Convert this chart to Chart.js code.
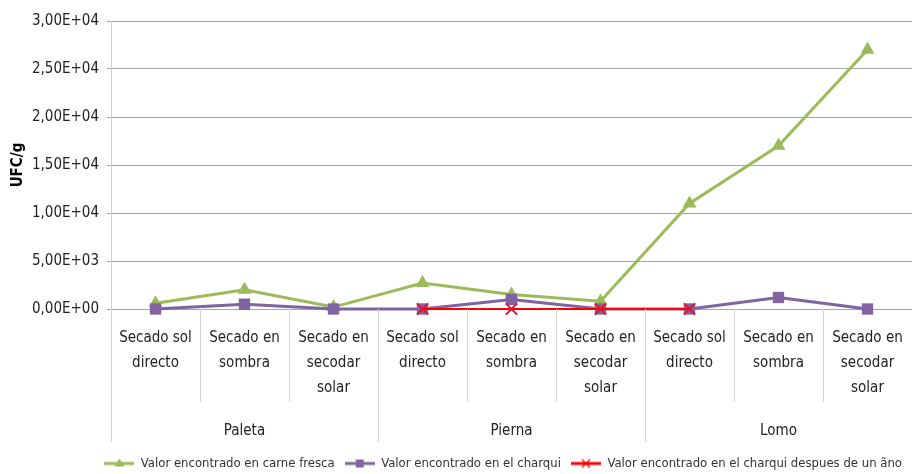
<!DOCTYPE html>
<html>
<head>
<meta charset="utf-8">
<script src="https://cdn.jsdelivr.net/npm/chart.js@4/dist/chart.umd.min.js"></script>
<style>
html,body{margin:0;padding:0;background:#fff;}
#wrap{width:912px;height:474px;position:relative;}
</style>
</head>
<body>
<div id="wrap"><canvas id="c" width="912" height="474"></canvas></div>
<script>
const categories = [
  ['Secado sol','directo'], ['Secado en','sombra'], ['Secado en','secodar','solar'],
  ['Secado sol','directo'], ['Secado en','sombra'], ['Secado en','secodar','solar'],
  ['Secado sol','directo'], ['Secado en','sombra'], ['Secado en','secodar','solar']
];
const groups = ['Paleta', 'Pierna', 'Lomo'];
const seriesNames = [
  'Valor encontrado en carne fresca',
  'Valor encontrado en el charqui',
  'Valor encontrado en el charqui despues de un ãno'
];
const carneFresca = [600, 2000, 200, 2700, 1500, 800, 11000, 17000, 27000];
const charqui = [0, 500, 0, 0, 1000, 0, 0, 1200, 0];
const charquiAno = [null, null, null, 0, 0, 0, 0, null, null];
const yMin = 0, yMax = 30000, yStep = 5000;

const FONT = "'Liberation Sans Narrow', 'DejaVu Sans Condensed', 'Liberation Sans', sans-serif";
const colors = ['#9BBB59', '#8064A2', '#FF0000'];
const styles = ['triangle', 'rect', 'crossRot'];

function fmtExp(v) {
  if (v === 0) return '0,00E+00';
  const e = Math.floor(Math.log10(Math.abs(v)));
  const m = v / Math.pow(10, e);
  const es = (e < 0 ? '-' : '+') + String(Math.abs(e)).padStart(2, '0');
  return m.toFixed(2).replace('.', ',') + 'E' + es;
}

function legendIcon(color, style) {
  const c = document.createElement('canvas');
  c.width = 30; c.height = 12;
  const g = c.getContext('2d');
  g.strokeStyle = color; g.fillStyle = color;
  g.lineWidth = 3;
  g.beginPath(); g.moveTo(0, 6); g.lineTo(30, 6); g.stroke();
  if (style === 'triangle') {
    g.beginPath(); g.moveTo(15, 1); g.lineTo(20, 9); g.lineTo(10, 9); g.closePath(); g.fill();
  } else if (style === 'rect') {
    g.fillRect(11, 2, 8, 8);
  } else {
    g.lineWidth = 1.2;
    g.beginPath(); g.moveTo(11, 2); g.lineTo(19, 10); g.moveTo(19, 2); g.lineTo(11, 10); g.stroke();
  }
  return c;
}
const icons = colors.map((c, i) => legendIcon(c, styles[i]));

const separators = {
  id: 'separators',
  afterDraw(chart) {
    const xs = chart.scales.x, x2 = chart.scales.x2;
    const ctx = chart.ctx;
    const top = chart.chartArea.bottom;
    ctx.save();
    ctx.strokeStyle = '#d4d4d4';
    ctx.lineWidth = 1;
    for (let i = 0; i <= categories.length; i++) {
      const px = Math.round(xs.getPixelForValue(i - 0.5)) + 0.5;
      const isGroup = i % 3 === 0;
      const bottom = isGroup ? x2.top + 40 : xs.bottom;
      ctx.beginPath(); ctx.moveTo(px, top); ctx.lineTo(px, bottom); ctx.stroke();
    }
    ctx.restore();
  }
};

const mk = (label, data, i, extra) => Object.assign({
  label, data,
  borderColor: colors[i], backgroundColor: colors[i],
  pointBackgroundColor: colors[i], pointBorderColor: colors[i],
  pointStyle: styles[i], tension: 0, spanGaps: false, clip: 10
}, extra);

new Chart(document.getElementById('c'), {
  type: 'line',
  data: {
    labels: categories,
    datasets: [
      mk(seriesNames[0], carneFresca, 0, { borderWidth: 3, pointRadius: 8, pointBorderWidth: 0, order: 2 }),
      mk(seriesNames[1], charqui, 1, { borderWidth: 3, pointRadius: 8, pointBorderWidth: 0, order: 1 }),
      mk(seriesNames[2], charquiAno, 2, { borderWidth: 2, pointRadius: 8, pointBorderWidth: 2, pointBorderColor: '#E8112D', order: 0 })
    ]
  },
  plugins: [separators],
  options: {
    responsive: false,
    animation: false,
    layout: { autoPadding: false, padding: { top: 21, right: 0, left: 0, bottom: -6 } },
    plugins: {
      tooltip: { enabled: false },
      legend: {
        position: 'bottom',
        align: 'end',
        labels: {
          font: { family: FONT, size: 13 },
          color: '#333',
          usePointStyle: true,
          pointStyleWidth: 30,
          padding: 10,
          sort: (a, b) => a.datasetIndex - b.datasetIndex,
          generateLabels(chart) {
            const items = Chart.defaults.plugins.legend.labels.generateLabels(chart);
            items.forEach((it) => { it.pointStyle = icons[it.datasetIndex]; });
            return items;
          }
        }
      }
    },
    scales: {
      x: {
        type: 'category',
        position: 'bottom',
        offset: true,
        grid: { display: false },
        border: { display: false },
        ticks: {
          autoSkip: false, maxRotation: 0, minRotation: 0,
          font: { family: FONT, size: 15, lineHeight: 1.667 },
          color: '#222', padding: 9
        },
        afterFit(s) { s.height = 93; }
      },
      x2: {
        type: 'category',
        position: 'bottom',
        labels: groups,
        offset: true,
        grid: { display: false },
        border: { display: false },
        ticks: { font: { family: FONT, size: 15 }, color: '#222', padding: 12 },
        afterFit(s) { s.height = 45; }
      },
      y: {
        min: yMin, max: yMax,
        ticks: {
          stepSize: yStep,
          callback: v => fmtExp(v),
          font: { family: FONT, size: 15 },
          color: '#222', padding: 8
        },
        grid: { color: '#a6a6a6', tickLength: 4, tickColor: '#a6a6a6' },
        border: { color: '#d0d0d0' },
        title: { display: true, text: 'UFC/g', font: { family: FONT, size: 15, weight: 'bold' }, color: '#000', padding: { top: 9, bottom: 0 } },
        afterFit(s) { s.width = 111; }
      }
    }
  }
});
</script>
</body>
</html>
